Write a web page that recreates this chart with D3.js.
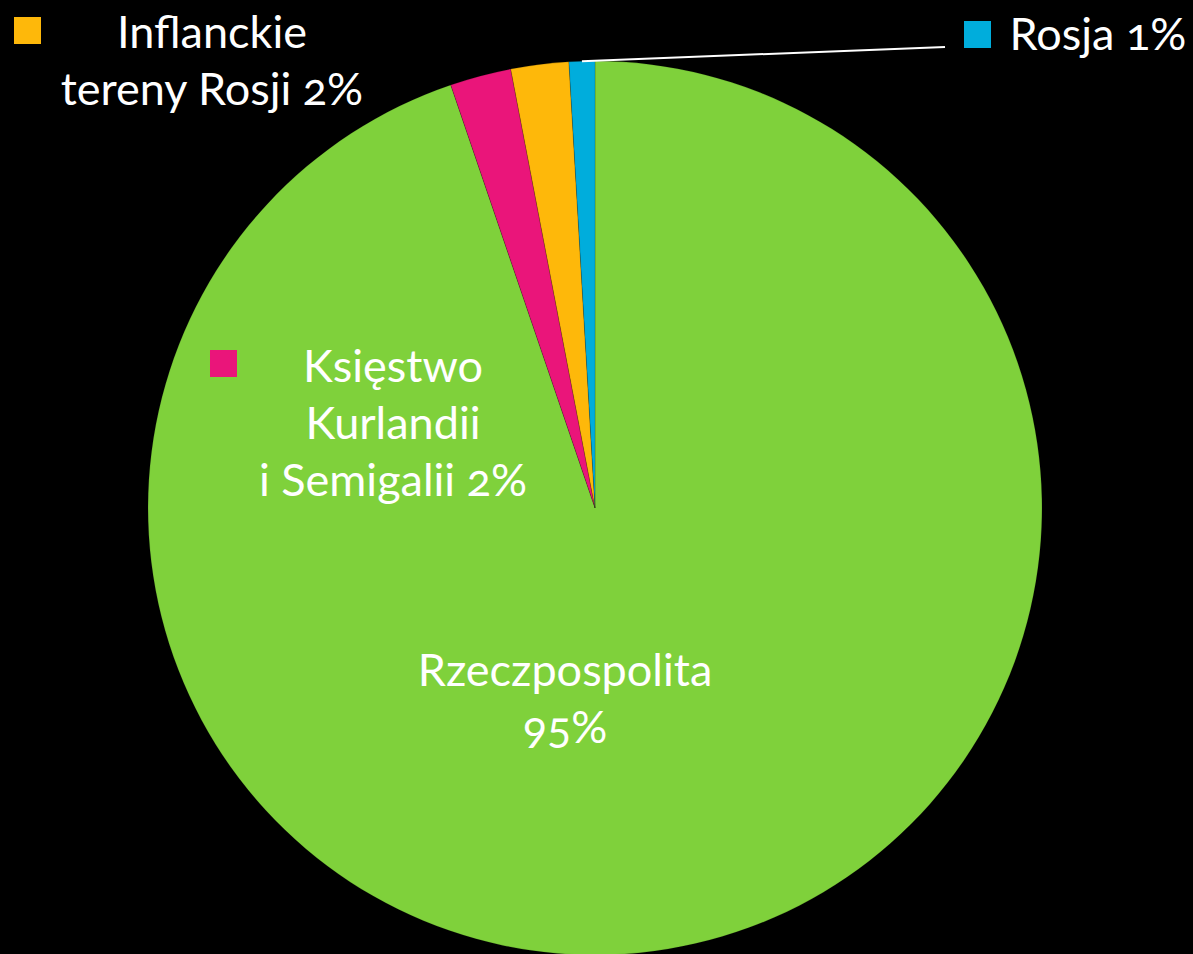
<!DOCTYPE html>
<html>
<head>
<meta charset="utf-8">
<script src="https://cdn.jsdelivr.net/npm/d3@7"></script>
<style>
  html, body { margin: 0; padding: 0; background: #000; }
  text { font-family: Lato, "Open Sans", sans-serif; font-variant-numeric: oldstyle-nums; }
</style>
</head>
<body>
<div id="chart"></div>
<script>
// Chart data
var categories = ["Rzeczpospolita", "Księstwo Kurlandii i Semigalii", "Inflanckie tereny Rosji", "Rosja"];
var values = [94.77, 2.21, 2.09, 0.93];
var percentLabels = ["95%", "2%", "2%", "1%"];
var colors = ["#7fd13b", "#ea157a", "#feb80a", "#00addc"];

var svgWidth = 1193;
var svgHeight = 954;

var cx = 595, cy = 508, radius = 447;

var svg = d3.select("#chart")
    .append("svg")
    .attr("width", svgWidth)
    .attr("height", svgHeight);

svg.append("rect")
    .attr("width", svgWidth)
    .attr("height", svgHeight)
    .attr("fill", "#000");

var pieData = categories.map(function(c, i) {
    return { name: c, value: values[i], label: percentLabels[i], color: colors[i] };
});

var pie = d3.pie()
    .sort(null)
    .value(d => d.value);

var arc = d3.arc()
    .innerRadius(0)
    .outerRadius(radius);

var pieGroup = svg.append("g")
    .attr("transform", `translate(${cx}, ${cy})`);

var arcs = pie(pieData);

pieGroup.selectAll("path")
    .data(arcs)
    .enter()
    .append("path")
    .attr("d", arc)
    .attr("fill", d => d.data.color)
    .attr("stroke", "rgba(0,0,0,0.25)")
    .attr("stroke-width", 0.6);

// label layout (hand placed, like the original)
var fontSize = 45;
var lineH = 57;
var labelLayout = [
    { lines: ["Rzeczpospolita", "95%"], x: 565, y: 686, key: false },
    { lines: ["Księstwo", "Kurlandii", "i Semigalii 2%"], x: 393, y: 382, key: true, kx: 210, ky: 350 },
    { lines: ["Inflanckie", "tereny Rosji 2%"], x: 212, y: 48, key: true, kx: 14, ky: 17 },
    { lines: ["Rosja 1%"], x: 1098, y: 50, key: true, kx: 964, ky: 21 }
];

// leader line for the small Rosja slice
var rosja = arcs[3];
var midA = (rosja.startAngle + rosja.endAngle) / 2;
svg.append("line")
    .attr("x1", cx + radius * Math.sin(midA))
    .attr("y1", cy - radius * Math.cos(midA))
    .attr("x2", 945)
    .attr("y2", 47)
    .attr("stroke", "#fff")
    .attr("stroke-width", 2);

labelLayout.forEach(function(l, i) {
    if (l.key) {
        svg.append("rect")
            .attr("x", l.kx)
            .attr("y", l.ky)
            .attr("width", 27)
            .attr("height", 27)
            .attr("fill", colors[i]);
    }
    var t = svg.append("text")
        .attr("fill", "#fff")
        .attr("font-size", fontSize)
        .attr("text-anchor", "middle");
    l.lines.forEach(function(line, j) {
        t.append("tspan")
            .attr("x", l.x)
            .attr("y", l.y + j * lineH)
            .text(line);
    });
});
</script>
</body>
</html>
